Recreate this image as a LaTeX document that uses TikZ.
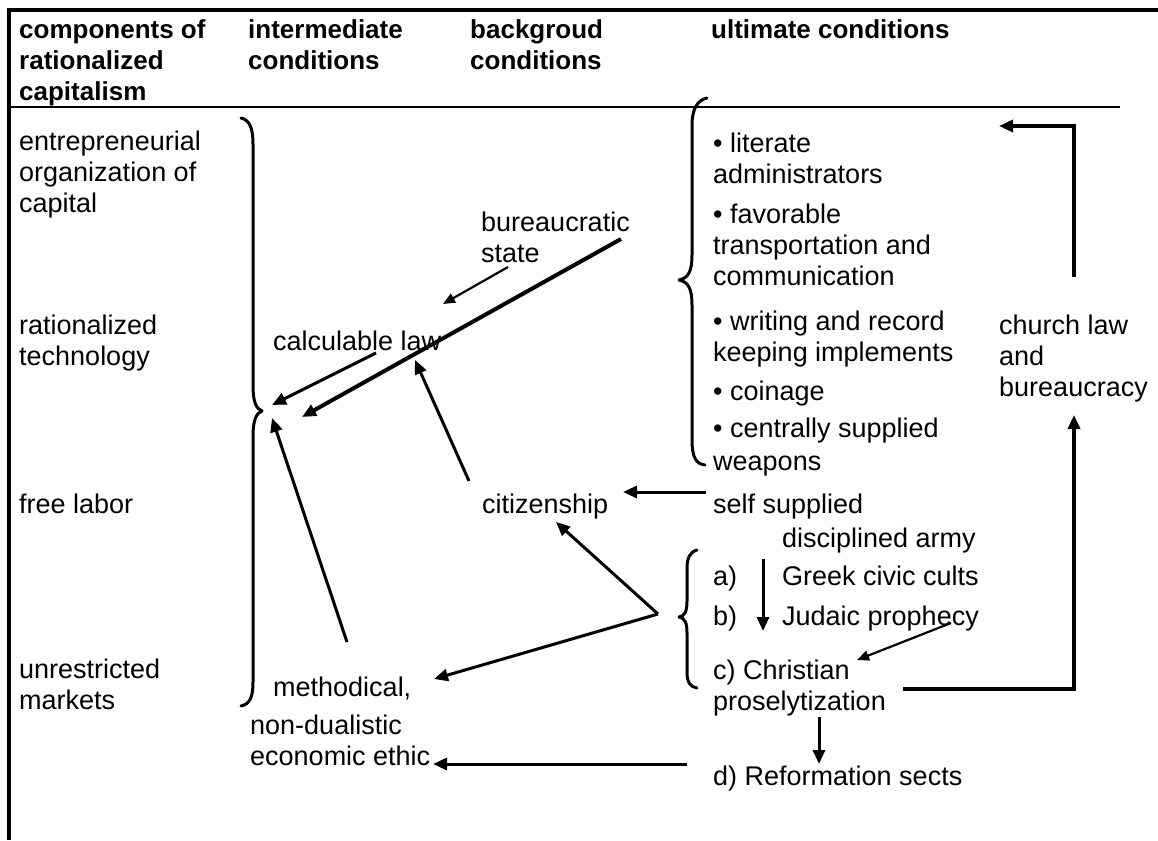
\documentclass[tikz,border=0pt]{standalone}
\usepackage{fontspec}
\setmainfont{Liberation Sans}
\usetikzlibrary{arrows.meta}
\begin{document}
\begin{tikzpicture}[x=1pt,y=-1pt,
  % multi-line labels are placed by the baseline of their last line
  lbl/.style={anchor=base west, inner sep=0pt, align=left, font=\fontsize{27}{31}\selectfont},
  hdr/.style={anchor=base west, inner sep=0pt, align=left, font=\fontsize{26}{31}\selectfont\bfseries},
  arr/.style={-{Triangle[length=14pt,width=12pt]}, line width=3pt},
  thinarr/.style={-{Triangle[length=12pt,width=10pt]}, line width=2.2pt},
  brace/.style={line width=3pt, line cap=round, line join=round}]
\useasboundingbox (0,0) rectangle (1158,840);

% frame and header rule
\draw[line width=3.5pt] (9,840) -- (9,10) -- (1158,10);
\draw[line width=2pt] (9,107) -- (1120,107);

% column headers
\node[hdr] (hcomp) at (19,101) {components of\\rationalized\\capitalism};
\node[hdr] (hinter) at (248,70) {intermediate\\conditions};
\node[hdr] (hback) at (470,70) {backgroud\\conditions};
\node[hdr] (hult) at (711,39) {ultimate conditions};

% components of rationalized capitalism
\node[lbl] (entre) at (19,212) {entrepreneurial\\organization of\\capital};
\node[lbl] (rtech) at (19,365) {rationalized\\technology};
\node[lbl] (flabor) at (19,513) {free labor};
\node[lbl] (umark) at (19,709) {unrestricted\\markets};

% intermediate and background conditions
\node[lbl] (claw) at (273,350) {calculable law};
\node[lbl] (bstate) at (481,262) {bureaucratic\\state};
\node[lbl] (citz) at (482,513) {citizenship};
\node[lbl] (meth) at (250,765) {\hspace*{23pt}methodical,\\[7pt]non-dualistic\\economic ethic};

% ultimate conditions
\node[lbl] (lit) at (713,183) {• literate\\administrators};
\node[lbl] (fav) at (713,285) {• favorable\\transportation and\\communication};
\node[lbl] (wri) at (713,361) {• writing and record\\keeping implements};
\node[lbl] (coin) at (713,400) {• coinage};
\node[lbl] (cent) at (713,470) {• centrally supplied\\[2pt]weapons};
\node[lbl] (army) at (713,547) {self supplied\\[3pt]\hspace*{69pt}disciplined army};
\node[lbl] (la) at (713,585) {a)};
\node[lbl] (lb) at (713,625) {b)};
\node[lbl] (greek) at (782,585) {Greek civic cults};
\node[lbl] (judaic) at (782,625) {Judaic prophecy};
\node[lbl] (christ) at (713,710) {c) Christian\\proselytization};
\node[lbl] (reform) at (713,785) {d) Reformation sects};
\node[lbl] (church) at (999,396) {church law\\and\\bureaucracy};

% braces
\draw[brace] (241,118) .. controls (250,120) and (253,129) .. (253,144) -- (253,386)
  .. controls (253,401) and (256,409) .. (262,411)
  .. controls (256,413) and (253,421) .. (253,436) -- (253,682)
  .. controls (253,697) and (250,704) .. (241,706);
\draw[brace] (707,98) .. controls (698,100) and (692,108) .. (692,125) -- (692,255)
  .. controls (692,270) and (689,278) .. (679,280)
  .. controls (689,282) and (692,290) .. (692,305) -- (692,440)
  .. controls (692,457) and (696,464) .. (705,465);
\draw[brace] (697,550) .. controls (690,552) and (687,558) .. (687,568) -- (687,601)
  .. controls (687,611) and (685,616) .. (679,617)
  .. controls (685,618) and (687,623) .. (687,633) -- (687,672)
  .. controls (687,682) and (690,687) .. (697,688);

% connector end points
\coordinate (tipA) at (272,405);
\coordinate (tipB) at (302,417);
\coordinate (tipC) at (272,418);
\coordinate (bsFrom) at (508,267);
\coordinate (bsTo) at (443,304);
\coordinate (longFrom) at (621,239);
\coordinate (clFrom) at (376,353);
\coordinate (ctFrom) at (469,481);
\coordinate (ctTo) at (415,360);
\coordinate (mFrom) at (347,642);
\coordinate (ssFrom) at (706,492);
\coordinate (ssTo) at (623,492);
\coordinate (fork) at (658,614);
\coordinate (forkC) at (556,522);
\coordinate (forkM) at (434,679);
\coordinate (abFrom) at (763,559);
\coordinate (abTo) at (763,631);
\coordinate (jFrom) at (951,623);
\coordinate (jTo) at (857,660);
\coordinate (pFrom) at (903,689);
\coordinate (pTo) at (1074,415);
\coordinate (chFrom) at (1074,277);
\coordinate (chTo) at (999,126);
\coordinate (cdFrom) at (819,717);
\coordinate (cdTo) at (819,764);
\coordinate (rFrom) at (687,764);
\coordinate (rTo) at (433,764);

% connectors
\draw[thinarr] (bsFrom) -- (bsTo);
\draw[arr, line width=4pt] (longFrom) -- (tipB);
\draw[arr] (clFrom) -- (tipA);
\draw[arr] (ctFrom) -- (ctTo);
\draw[arr] (mFrom) -- (tipC);
\draw[arr] (ssFrom) -- (ssTo);
\draw[arr] (fork) -- (forkC);
\draw[arr] (fork) -- (forkM);
\draw[arr] (abFrom) -- (abTo);
\draw[thinarr] (jFrom) -- (jTo);
\draw[arr, line width=3.5pt] (pFrom) -| (pTo);
\draw[arr, line width=3.5pt] (chFrom) |- (chTo);
\draw[arr] (cdFrom) -- (cdTo);
\draw[arr] (rFrom) -- (rTo);
\end{tikzpicture}
\end{document}
